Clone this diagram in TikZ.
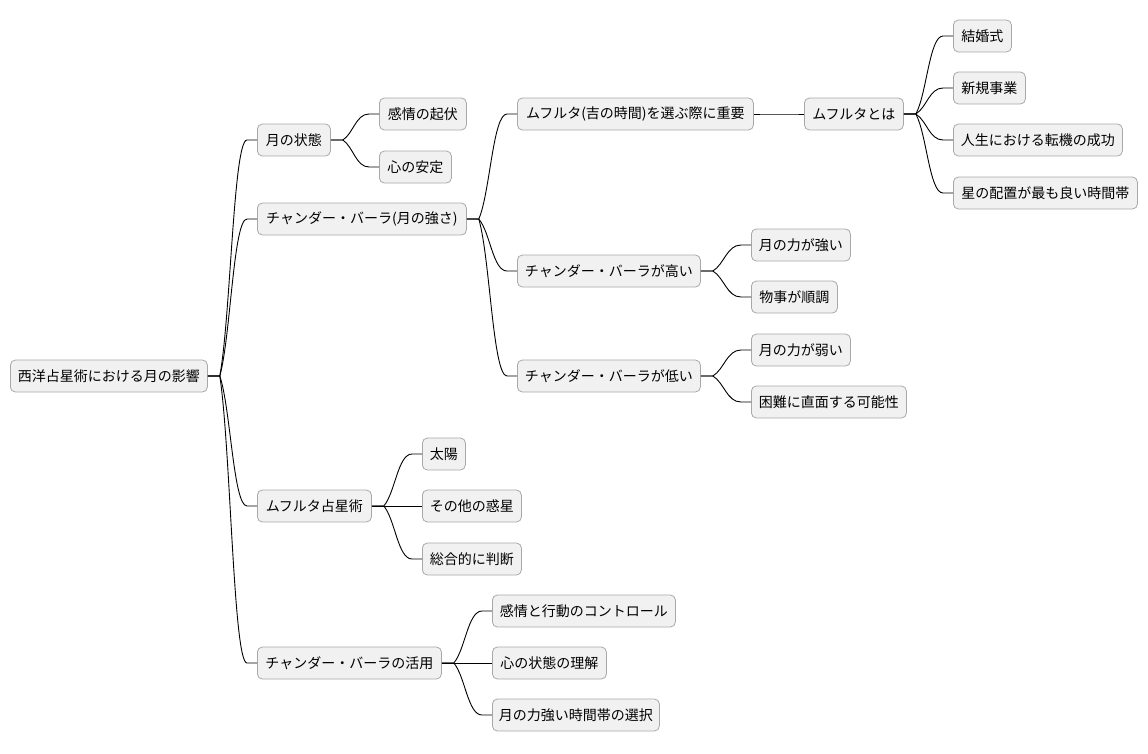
\documentclass[tikz,border=0pt]{standalone}
\usepackage{fontspec}
\setmainfont{Noto Sans CJK JP}
\usetikzlibrary{calc}
\definecolor{boxfill}{HTML}{F1F1F1}
\definecolor{boxline}{HTML}{A8A8A8}
\tikzset{
  mbox/.style={draw=boxline, fill=boxfill, rounded corners=5pt, line width=0.8pt,
    anchor=west, minimum height=32pt, inner xsep=2pt, inner ysep=0pt,
    font=\fontsize{14}{16}\selectfont, text=black},
  conn/.style={draw=black, line width=0.9pt}
}
\newcommand\mmlink[2]{%
  \path (#1.east) ++(12,0) coordinate (mmf);
  \path (#2.west) ++(-10,0) coordinate (mmt);
  \path ($(mmf)!0.4!(mmt)$) coordinate (mmxa);
  \path ($(mmf)!0.25!(mmt)$) coordinate (mmya);
  \path ($(mmf)!0.5!(mmt)$) coordinate (mmxb);
  \draw[conn] (#1.east) -- (mmf)
    .. controls (mmxa |- mmya) and (mmxb |- mmt)
    .. (mmt) -- (#2.west);}
\begin{document}
\begin{tikzpicture}[x=1pt,y=-1pt]
\useasboundingbox (0,0) rectangle (1148,753);
\node[mbox, minimum width=197] (root) at (10,376) {西洋占星術における月の影響};
\node[mbox, minimum width=73] (a) at (257,140) {月の状態};
\node[mbox, minimum width=87] (a1) at (379,114) {感情の起伏};
\node[mbox, minimum width=72] (a2) at (379,167) {心の安定};
\node[mbox, minimum width=209] (b) at (257,219) {チャンダー・バーラ(月の強さ)};
\node[mbox, minimum width=236] (b1) at (517,114) {ムフルタ(吉の時間)を選ぶ際に重要};
\node[mbox, minimum width=99] (b11) at (804,114) {ムフルタとは};
\node[mbox, minimum width=58] (c1) at (953,36) {結婚式};
\node[mbox, minimum width=72] (c2) at (953,88) {新規事業};
\node[mbox, minimum width=169] (c3) at (953,140) {人生における転機の成功};
\node[mbox, minimum width=184] (c4) at (953,193) {星の配置が最も良い時間帯};
\node[mbox, minimum width=183] (b2) at (517,271) {チャンダー・バーラが高い};
\node[mbox, minimum width=99] (b21) at (751,245) {月の力が強い};
\node[mbox, minimum width=86] (b22) at (751,297) {物事が順調};
\node[mbox, minimum width=183] (b3) at (517,376) {チャンダー・バーラが低い};
\node[mbox, minimum width=99] (b31) at (751,350) {月の力が弱い};
\node[mbox, minimum width=155] (b32) at (751,402) {困難に直面する可能性};
\node[mbox, minimum width=114] (d) at (257,506) {ムフルタ占星術};
\node[mbox, minimum width=43] (d1) at (422,454) {太陽};
\node[mbox, minimum width=99] (d2) at (422,506) {その他の惑星};
\node[mbox, minimum width=99] (d3) at (422,559) {総合的に判断};
\node[mbox, minimum width=184] (e) at (257,663) {チャンダー・バーラの活用};
\node[mbox, minimum width=183] (e1) at (492,611) {感情と行動のコントロール};
\node[mbox, minimum width=114] (e2) at (492,663) {心の状態の理解};
\node[mbox, minimum width=167] (e3) at (492,715) {月の力強い時間帯の選択};
\mmlink{root}{a}
\mmlink{root}{b}
\mmlink{root}{d}
\mmlink{root}{e}
\mmlink{a}{a1}
\mmlink{a}{a2}
\mmlink{b}{b1}
\mmlink{b}{b2}
\mmlink{b}{b3}
\mmlink{b1}{b11}
\mmlink{b11}{c1}
\mmlink{b11}{c2}
\mmlink{b11}{c3}
\mmlink{b11}{c4}
\mmlink{b2}{b21}
\mmlink{b2}{b22}
\mmlink{b3}{b31}
\mmlink{b3}{b32}
\mmlink{d}{d1}
\mmlink{d}{d2}
\mmlink{d}{d3}
\mmlink{e}{e1}
\mmlink{e}{e2}
\mmlink{e}{e3}
\end{tikzpicture}
\end{document}
